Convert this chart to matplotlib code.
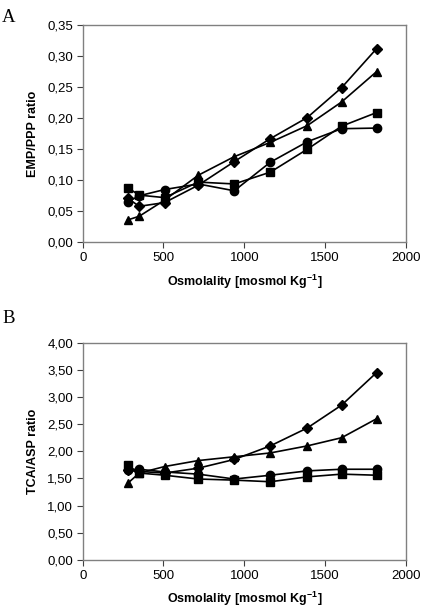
import matplotlib
matplotlib.use("Agg")
import matplotlib.pyplot as plt
from matplotlib.ticker import FuncFormatter

osm = [278, 350, 507, 715, 938, 1161, 1390, 1602, 1819]

emp_diamond = [0.071, 0.058, 0.064, 0.092, 0.130, 0.167, 0.201, 0.249, 0.312]
emp_triangle = [0.036, 0.042, 0.068, 0.108, 0.138, 0.161, 0.188, 0.226, 0.275]
emp_square = [0.088, 0.076, 0.072, 0.097, 0.094, 0.113, 0.150, 0.187, 0.209]
emp_circle = [0.065, 0.075, 0.085, 0.094, 0.083, 0.129, 0.162, 0.183, 0.184]

tca_diamond = [1.65, 1.63, 1.60, 1.69, 1.85, 2.10, 2.43, 2.85, 3.45]
tca_triangle = [1.41, 1.60, 1.72, 1.83, 1.90, 1.97, 2.10, 2.25, 2.60]
tca_square = [1.74, 1.60, 1.56, 1.49, 1.47, 1.44, 1.53, 1.58, 1.56]
tca_circle = [1.66, 1.67, 1.62, 1.58, 1.49, 1.56, 1.64, 1.67, 1.67]

xticks = [0, 500, 1000, 1500, 2000]
yticks_a = [0.00, 0.05, 0.10, 0.15, 0.20, 0.25, 0.30, 0.35]
yticks_b = [0.0, 0.5, 1.0, 1.5, 2.0, 2.5, 3.0, 3.5, 4.0]

plt.rcParams['font.family'] = ['Liberation Sans', 'DejaVu Sans']

fig = plt.figure(figsize=(4.25, 6.13), dpi=100)
axA = fig.add_axes([0.1946, 0.6047, 0.7604, 0.3545])
axB = fig.add_axes([0.1946, 0.0865, 0.7604, 0.3545])

def style(ax, yticks, ylabel):
    ax.set_xlim(0, 2000)
    ax.set_ylim(yticks[0], yticks[-1])
    ax.set_xticks(xticks)
    ax.set_yticks(yticks)
    ax.yaxis.set_major_formatter(FuncFormatter(lambda v, p: f"{v:.2f}".replace('.', ',')))
    for s in ax.spines.values():
        s.set_color('#808080')
        s.set_linewidth(1.0)
    ax.tick_params(direction='out', length=4, width=0.8, color='#404040', labelsize=9.5, pad=3)
    ax.set_xlabel('Osmolality [mosmol Kg$^{\\mathregular{-1}}$]', fontsize=9, fontweight='bold', labelpad=6)
    ax.set_ylabel(ylabel, fontsize=9, fontweight='bold', labelpad=6)

def draw(ax, d, t, s, c):
    kw = dict(color='black', linewidth=1.2, markersize=6)
    ax.plot(osm, c, marker='o', **kw)
    ax.plot(osm, s, marker='s', **kw)
    ax.plot(osm, t, marker='^', **kw)
    ax.plot(osm, d, marker='D', **{**kw, 'markersize': 5.5})

draw(axA, emp_diamond, emp_triangle, emp_square, emp_circle)
draw(axB, tca_diamond, tca_triangle, tca_square, tca_circle)
style(axA, yticks_a, 'EMP/PPP ratio')
style(axB, yticks_b, 'TCA/ASP ratio')

fig.text(0.005, 0.985, 'A', family='Liberation Serif', fontsize=13.5, va='top', ha='left')
fig.text(0.005, 0.495, 'B', family='Liberation Serif', fontsize=13.5, va='top', ha='left')

fig.savefig('out.png', dpi=100)
